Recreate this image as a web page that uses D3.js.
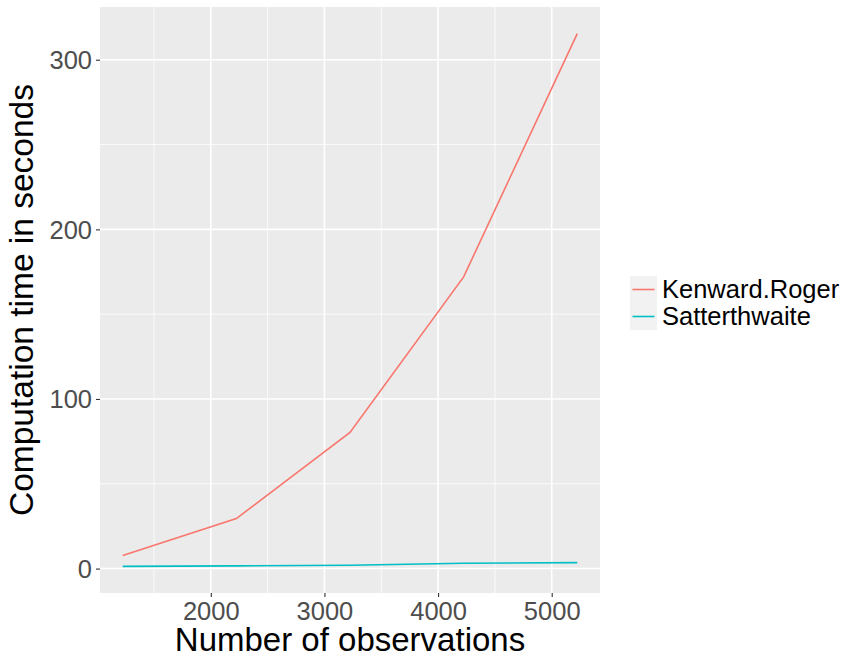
<!DOCTYPE html>
<html>
<head>
<meta charset="utf-8">
<script src="https://cdn.jsdelivr.net/npm/d3@7"></script>
<style>
  body { margin:0; background:#fff; }
  svg { display:block; font-family:"Liberation Sans", Arial, sans-serif; }
</style>
</head>
<body>
<div id="chart"></div>
<script>
// data
const observations = [1225, 2225, 3225, 4225, 5225];
const kenwardRoger = [7.7, 29.5, 80.3, 172, 315.4];
const satterthwaite = [1.3, 1.6, 2.0, 3.1, 3.5];
const seriesNames = ["Kenward.Roger", "Satterthwaite"];
const seriesColors = ["#F8766D", "#00BFC4"];
const xTicks = [2000, 3000, 4000, 5000];
const xMinor = [1500, 2500, 3500, 4500];
const yTicks = [0, 100, 200, 300];
const yMinor = [50, 150, 250];

const W = 846, H = 657;
const P = {l:100, r:600, t:7, b:593};

const series = [kenwardRoger, satterthwaite].map((vals, i) => ({
  name: seriesNames[i], color: seriesColors[i],
  pts: observations.map((x, j) => [x, vals[j]])
}));

// ggplot-style 5% expansion
function expand(ext) { const d = (ext[1]-ext[0])*0.05; return [ext[0]-d, ext[1]+d]; }
const allY = kenwardRoger.concat(satterthwaite);
const x = d3.scaleLinear().domain(expand(d3.extent(observations))).range([P.l, P.r]);
const y = d3.scaleLinear().domain(expand(d3.extent(allY))).range([P.b, P.t]);

const svg = d3.select("#chart").append("svg").attr("width", W).attr("height", H);

svg.append("rect").attr("x", P.l).attr("y", P.t)
  .attr("width", P.r-P.l).attr("height", P.b-P.t).attr("fill", "#EBEBEB");

// minor grid
const gGrid = svg.append("g");
gGrid.selectAll(".xmin").data(xMinor).join("line")
  .attr("x1", d=>x(d)).attr("x2", d=>x(d)).attr("y1", P.t).attr("y2", P.b)
  .attr("stroke", "#fff").attr("stroke-width", 0.8);
gGrid.selectAll(".ymin").data(yMinor).join("line")
  .attr("y1", d=>y(d)).attr("y2", d=>y(d)).attr("x1", P.l).attr("x2", P.r)
  .attr("stroke", "#fff").attr("stroke-width", 0.8);
// major grid
gGrid.selectAll(".xmaj").data(xTicks).join("line")
  .attr("x1", d=>x(d)).attr("x2", d=>x(d)).attr("y1", P.t).attr("y2", P.b)
  .attr("stroke", "#fff").attr("stroke-width", 1.6);
gGrid.selectAll(".ymaj").data(yTicks).join("line")
  .attr("y1", d=>y(d)).attr("y2", d=>y(d)).attr("x1", P.l).attr("x2", P.r)
  .attr("stroke", "#fff").attr("stroke-width", 1.6);

// lines
const line = d3.line().x(d=>x(d[0])).y(d=>y(d[1]));
svg.selectAll(".sline").data(series).join("path")
  .attr("class", "sline")
  .attr("d", d=>line(d.pts))
  .attr("fill", "none").attr("stroke", d=>d.color).attr("stroke-width", 1.6);

// axes
const xAxis = svg.append("g").attr("transform", `translate(0,${P.b})`)
  .call(d3.axisBottom(x).tickValues(xTicks).tickSize(4).tickPadding(4).tickFormat(d3.format("d")));
const yAxis = svg.append("g").attr("transform", `translate(${P.l},0)`)
  .call(d3.axisLeft(y).tickValues(yTicks).tickSize(4).tickPadding(4).tickFormat(d3.format("d")));
[xAxis, yAxis].forEach(a => {
  a.select(".domain").remove();
  a.selectAll(".tick line").attr("stroke", "#333").attr("stroke-width", 1.1);
  a.selectAll(".tick text").attr("fill", "#4D4D4D").attr("font-size", 25.5)
    .attr("font-family", "'Liberation Sans', Arial, sans-serif");
});
xAxis.selectAll(".tick text").attr("dy", null).attr("y", 27);
yAxis.selectAll(".tick text").attr("dy", "0.35em");

// axis titles
svg.append("text").attr("x", (P.l+P.r)/2).attr("y", 651)
  .attr("text-anchor", "middle").attr("font-size", 33).attr("fill", "#000")
  .text("Number of observations");
svg.append("text").attr("transform", `translate(33,${(P.t+P.b)/2}) rotate(-90)`)
  .attr("text-anchor", "middle").attr("font-size", 33.5).attr("fill", "#000")
  .text("Computation time in seconds");

// legend
const leg = svg.append("g").attr("transform", "translate(630,276)");
const items = leg.selectAll(".li").data(series).join("g")
  .attr("transform", (d,i)=>`translate(0,${i*27})`);
items.append("rect").attr("width", 27).attr("height", 27).attr("fill", "#F2F2F2");
items.append("line").attr("x1", 2.5).attr("x2", 24.5).attr("y1", 13.5).attr("y2", 13.5)
  .attr("stroke", d=>d.color).attr("stroke-width", 1.6);
items.append("text").attr("x", 32).attr("y", 13.5).attr("dy", "0.35em")
  .attr("font-size", 25.5).attr("fill", "#000").text(d=>d.name);
</script>
</body>
</html>
